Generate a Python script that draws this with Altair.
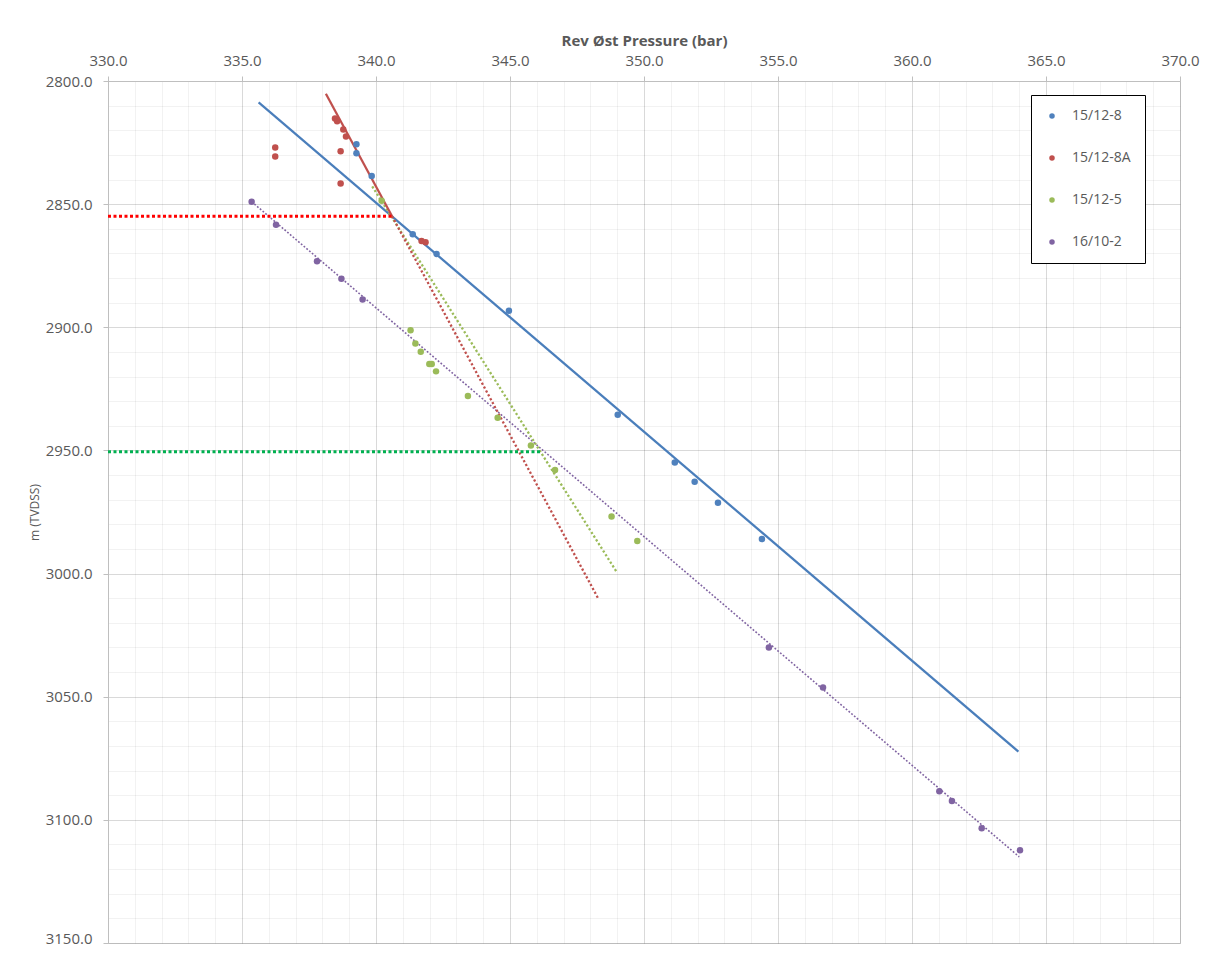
import altair as alt
import pandas as pd

# ---------------- data ----------------
series_names = ["15/12-8", "15/12-8A", "15/12-5", "16/10-2"]
series_colors = ["#4F81BD", "#C0504D", "#9BBB59", "#8064A2"]

w8_x = [339.27, 339.27, 339.84, 341.37, 342.26, 344.96, 349.02, 351.15, 351.89, 352.76, 354.40]
w8_y = [2825.7, 2829.3, 2838.6, 2862.2, 2870.2, 2893.3, 2935.5, 2954.9, 2962.7, 2971.2, 2986.0]

w8a_x = [338.47, 338.55, 338.78, 338.88, 336.24, 336.24, 338.68, 338.68, 341.70, 341.85]
w8a_y = [2815.2, 2816.3, 2819.7, 2822.5, 2827.0, 2830.7, 2828.5, 2841.6, 2865.0, 2865.5]

w5_x = [340.21, 341.29, 341.47, 341.67, 341.99, 342.08, 342.24, 343.43, 344.54, 345.78, 346.68, 348.79, 349.75]
w5_y = [2848.6, 2901.2, 2906.6, 2909.9, 2914.9, 2914.9, 2917.9, 2927.9, 2936.7, 2948.0, 2957.9, 2976.8, 2986.8]

w16_x = [335.36, 336.27, 337.80, 338.71, 339.50, 354.66, 356.68, 361.02, 361.49, 362.60, 364.03]
w16_y = [2849.0, 2858.4, 2873.2, 2880.3, 2888.7, 3030.0, 3046.3, 3088.4, 3092.3, 3103.4, 3112.3]

# trend lines (end points)
trend8_x = [335.62, 363.97]
trend8_y = [2808.7, 3072.3]
trend8a_solid_x = [338.13, 340.60]
trend8a_solid_y = [2805.2, 2854.9]
trend8a_dot_x = [340.60, 348.28]
trend8a_dot_y = [2854.9, 3009.9]
trend5_x = [339.86, 348.96]
trend5_y = [2842.8, 2999.0]
trend16_x = [335.36, 364.00]
trend16_y = [2849.0, 3115.0]

# horizontal contact markers
ref_red_x = [330.0, 340.6]
ref_red_y = [2854.9, 2854.9]
ref_green_x = [330.0, 346.2]
ref_green_y = [2950.5, 2950.5]

x_grid_values = list(range(330, 371, 1))
y_grid_values = list(range(2800, 3151, 10))

# ---------------- chart ----------------
FONT = "Open Sans"
GREY = "#595959"

points = pd.concat([
    pd.DataFrame({"p": w8_x, "d": w8_y, "well": series_names[0]}),
    pd.DataFrame({"p": w8a_x, "d": w8a_y, "well": series_names[1]}),
    pd.DataFrame({"p": w5_x, "d": w5_y, "well": series_names[2]}),
    pd.DataFrame({"p": w16_x, "d": w16_y, "well": series_names[3]}),
], ignore_index=True)

x_scale = alt.Scale(domain=[330, 370], nice=False, zero=False)
y_scale = alt.Scale(domain=[2800, 3150], nice=False, zero=False, reverse=True)

major_x = "datum.value % 5 === 0"
major_y = "datum.value % 50 === 0"

x_axis = alt.Axis(
    orient="top", values=x_grid_values,
    labelExpr=f"{major_x} ? format(datum.value, '.1f') : ''",
    labelOverlap=False, labelFlush=False,
    grid=True, gridColor="#000000",
    gridOpacity={"condition": {"test": major_x, "value": 0.15}, "value": 0.05},
    tickColor="#BFBFBF", tickSize=5,
    tickOpacity={"condition": {"test": major_x, "value": 1}, "value": 0},
    domainColor="#BFBFBF",
    labelFont=FONT, labelFontSize=15, labelColor=GREY, labelPadding=8,
    title="Rev Øst Pressure (bar)", titleFont=FONT, titleFontSize=15,
    titleFontWeight="bold", titleColor=GREY, titlePadding=5,
)
y_axis = alt.Axis(
    orient="left", values=y_grid_values,
    labelExpr=f"{major_y} ? format(datum.value, '.1f') : ''",
    labelOverlap=False, labelFlush=False,
    labelBaseline={"condition": {"test": "datum.value === 3150", "value": "alphabetic"},
                   "value": "middle"},
    grid=True, gridColor="#000000",
    gridOpacity={"condition": {"test": major_y, "value": 0.15}, "value": 0.05},
    tickColor="#BFBFBF", tickSize=5,
    tickOpacity={"condition": {"test": major_y, "value": 1}, "value": 0},
    domainColor="#BFBFBF",
    labelFont=FONT, labelFontSize=15, labelColor=GREY, labelPadding=11,
    title="m (TVDSS)", titleFont=FONT, titleFontSize=12,
    titleFontWeight="normal", titleColor=GREY, titlePadding=4,
)

X = alt.X("p:Q", scale=x_scale, axis=x_axis)
Y = alt.Y("d:Q", scale=y_scale, axis=y_axis)


def line_layer(xs, ys, color, width, dash=None):
    df = pd.DataFrame({"p": xs, "d": ys})
    kw = dict(color=color, strokeWidth=width, strokeCap="butt")
    if dash is not None:
        kw["strokeDash"] = dash
    return alt.Chart(df).mark_line(**kw).encode(x=X, y=Y)


dot = [2.2, 2.2]
layers = [
    line_layer(trend8_x, trend8_y, "#4A7EBB", 2.25),
    line_layer(trend16_x, trend16_y, "#8064A2", 1.6, dash=[1.8, 1.8]),
    line_layer(trend5_x, trend5_y, "#9BBB59", 2.3, dash=dot),
    line_layer(trend8a_dot_x, trend8a_dot_y, "#C0504D", 2.3, dash=dot),
    line_layer(trend8a_solid_x, trend8a_solid_y, "#C0504D", 2.25),
    line_layer(ref_red_x, ref_red_y, "#FF0000", 3, dash=[3, 2.5]),
    line_layer(ref_green_x, ref_green_y, "#00B050", 3, dash=[3, 2.5]),
]

nbsp = "\u00a0" * 7
pts = alt.Chart(points).mark_circle(size=42, opacity=1).encode(
    x=X, y=Y,
    color=alt.Color(
        "well:N",
        scale=alt.Scale(domain=series_names, range=series_colors),
        sort=series_names,
        legend=alt.Legend(
            title=None, orient="none", legendX=923, legendY=14,
            strokeColor="#000000", fillColor="#FFFFFF", padding=14,
            symbolType="circle", symbolSize=30, symbolStrokeWidth=0,
            labelFont=FONT, labelFontSize=14, labelColor=GREY,
            labelOffset=13, rowPadding=28,
            labelExpr=f"datum.label + '{nbsp}'",
        ),
    ),
)

chart = alt.layer(*layers, pts).properties(
    width=1072, height=862,
    autosize=alt.AutoSizeParams(type="none"),
    padding={"left": 100, "top": 73, "right": 27, "bottom": 7},
).configure_view(stroke=None).configure(background="#FFFFFF")

chart.save("out.html", embed_options={"renderer": "svg", "actions": False})
